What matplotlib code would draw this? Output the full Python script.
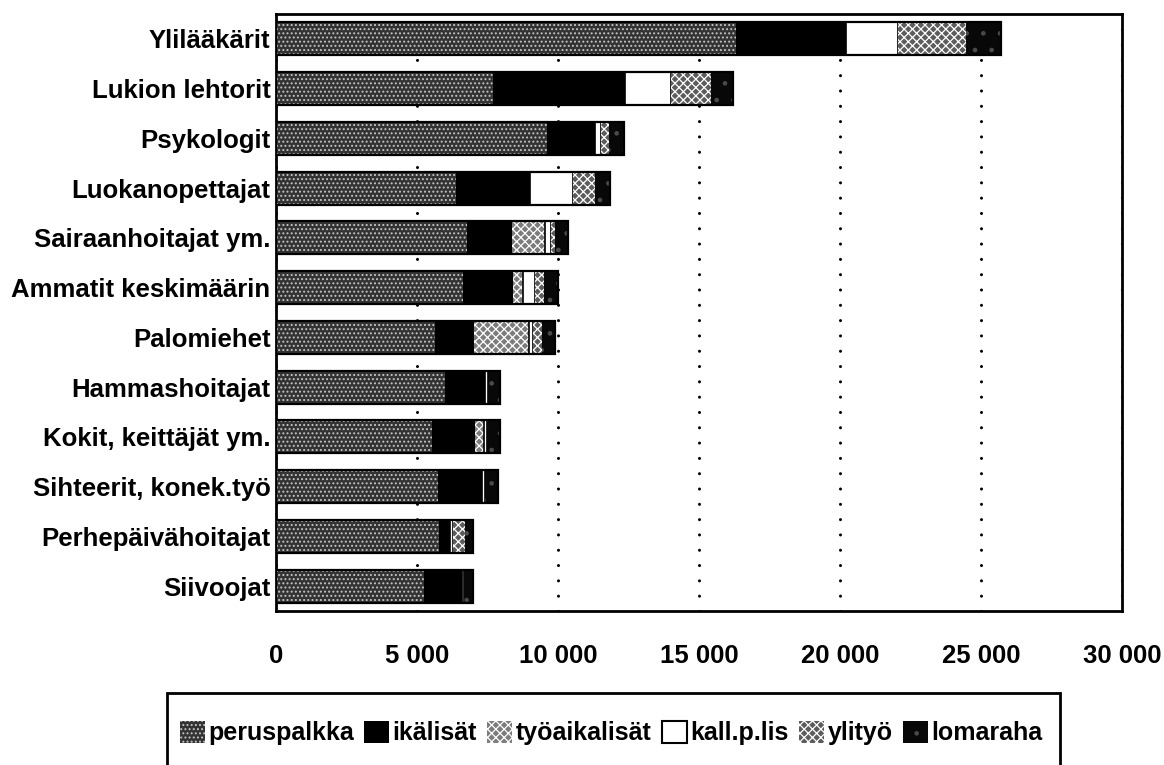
import matplotlib
matplotlib.use('Agg')
import matplotlib.pyplot as plt
import numpy as np
from matplotlib.patches import Patch, Rectangle

# palkan osat, mk/kk (luettu kuvasta)
ammatit = ['Ylilääkärit', 'Lukion lehtorit', 'Psykologit', 'Luokanopettajat',
           'Sairaanhoitajat ym.', 'Ammatit keskimäärin', 'Palomiehet',
           'Hammashoitajat', 'Kokit, keittäjät ym.', 'Sihteerit, konek.työ',
           'Perhepäivähoitajat', 'Siivoojat']
peruspalkka = [16310, 7700, 9610, 6380, 6770, 6630, 5640, 5990, 5530, 5740, 5780, 5250]
ikalisat = [3900, 4680, 1700, 2630, 1600, 1770, 1380, 1420, 1530, 1560, 390, 1350]
tyoaikalisat = [0, 0, 0, 0, 1170, 350, 1950, 0, 320, 0, 0, 0]
kall_p_lis = [1840, 1630, 210, 1520, 210, 420, 140, 110, 110, 110, 110, 70]
ylityo = [2410, 1420, 280, 780, 140, 320, 320, 0, 0, 0, 430, 0]
lomaraha = [1250, 780, 540, 530, 460, 510, 460, 420, 450, 460, 280, 320]

x_ticks = [0, 5000, 10000, 15000, 20000, 25000, 30000]
x_tick_labels = ['0', '5 000', '10 000', '15 000', '20 000', '25 000', '30 000']

plt.rcParams['font.family'] = ['Liberation Sans', 'DejaVu Sans']
plt.rcParams['font.weight'] = 'bold'
plt.rcParams['hatch.linewidth'] = 0.9

osat = [
    ('peruspalkka', peruspalkka, '#333333', '....', '#c4c4c4'),
    ('ikälisät', ikalisat, '#000000', None, '#000000'),
    ('työaikalisät', tyoaikalisat, '#7c7c7c', 'xxxx', '#ffffff'),
    ('kall.p.lis', kall_p_lis, '#ffffff', None, '#000000'),
    ('ylityö', ylityo, '#5c5c5c', 'xxxx', '#ffffff'),
    ('lomaraha', lomaraha, '#080808', '.', '#4a4a4a'),
]

fig = plt.figure(figsize=(11.64, 7.65), dpi=100)
ax = fig.add_axes([0.2371, 0.2013, 0.7268, 0.7804])

y = np.arange(len(ammatit))
vasen = np.zeros(len(ammatit))
kork = 0.66
for nimi, arvot, vari, hatch, hvari in osat:
    arvot = np.array(arvot, dtype=float)
    if nimi == 'kall.p.lis':
        ax.barh(y, arvot, left=vasen, height=kork, color=vari,
                edgecolor='black', linewidth=1.2, zorder=3)
    else:
        ax.barh(y, arvot, left=vasen, height=kork, color=vari, hatch=hatch,
                edgecolor=hvari, linewidth=0, zorder=3)
    vasen = vasen + arvot

# koko palkin reunaviiva
ax.barh(y, vasen, height=kork, fill=False, edgecolor='black', linewidth=1.6, zorder=4)

ax.set_xlim(0, 30000)
ax.set_ylim(len(ammatit) - 0.5, -0.5)
ax.set_xticks(x_ticks)
ax.set_xticklabels(x_tick_labels)
ax.set_yticks(y)
ax.set_yticklabels(ammatit)
ax.tick_params(axis='both', length=0, labelsize=18.5)
ax.tick_params(axis='x', pad=24)
ax.tick_params(axis='y', pad=4)

ax.set_axisbelow(True)
ax.grid(axis='x', color='black', linewidth=2.2, linestyle=(0, (0.01, 5.0)),
        dash_capstyle='round')
for spine in ax.spines.values():
    spine.set_linewidth(2)

# selite laatikossa
kahvat = [Patch(facecolor=vari, hatch=hatch, edgecolor=hvari if nimi != 'kall.p.lis' else 'black',
                linewidth=0 if nimi != 'kall.p.lis' else 1.5, label=nimi)
          for nimi, arvot, vari, hatch, hvari in osat]
fig.patches.append(Rectangle((167 / 1164, -0.01), (1060 - 167) / 1164, 1 - 693 / 765 + 0.01,
                             transform=fig.transFigure, fill=False, edgecolor='black',
                             linewidth=2))
fig.legend(handles=kahvat, loc='center', bbox_to_anchor=((180 + 1042) / 2 / 1164, 1 - 733 / 765),
           ncol=6, frameon=False, fontsize=18, handlelength=1.0, handleheight=1.0,
           handletextpad=0.15, columnspacing=0.4, borderpad=0)

fig.savefig('out.png', dpi=100, facecolor='white')
